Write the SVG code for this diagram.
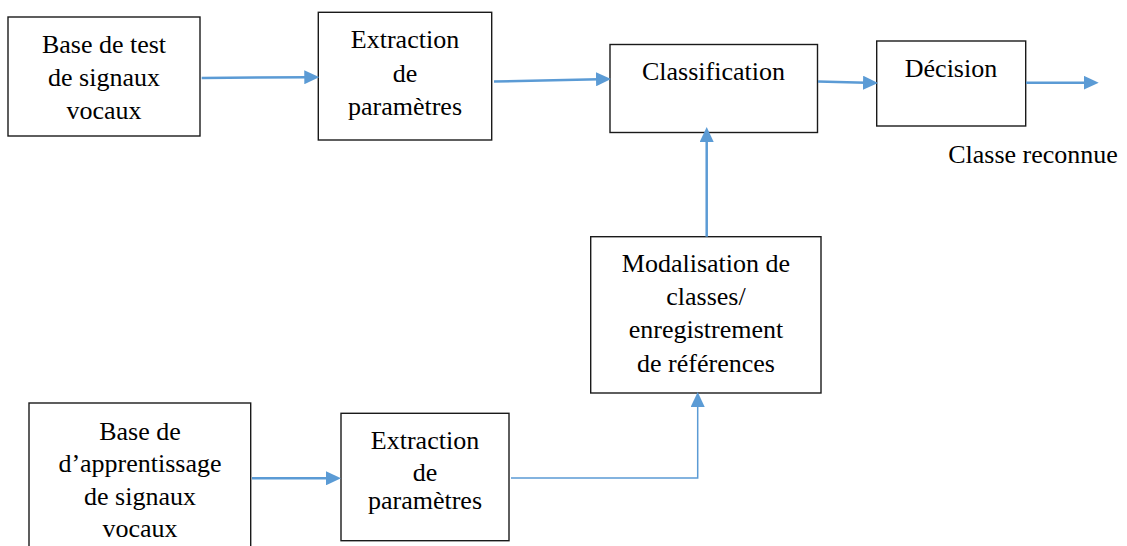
<svg xmlns="http://www.w3.org/2000/svg" width="1127" height="546" viewBox="0 0 1127 546">
<style>
.box{fill:#fff;stroke:#1a1a1a;stroke-width:1.4}
.t{font-family:'Liberation Serif','Times New Roman',serif;font-size:26px;fill:#000;text-anchor:middle}
.c{fill:none;stroke:#5B9BD5;stroke-width:2.5}
.c2{fill:none;stroke:#5B9BD5;stroke-width:1.5}
</style>
<defs>
<marker id="ah" markerUnits="userSpaceOnUse" markerWidth="15" markerHeight="14" viewBox="0 0 15 14" refX="3" refY="7" orient="auto">
<path d="M0,0 L15,7 L0,14 z" fill="#5B9BD5"/>
</marker>
</defs>
<rect width="1127" height="546" fill="#fff"/>
<g id="test-base">
<rect class="box" x="8" y="17" width="192" height="119"/>
<text class="t" x="104" y="53">Base de test</text>
<text class="t" x="104" y="86">de signaux</text>
<text class="t" x="104" y="119">vocaux</text>
</g>
<g id="extraction-top">
<rect class="box" x="318.3" y="12.3" width="173.4" height="127.7"/>
<text class="t" x="405" y="48">Extraction</text>
<text class="t" x="405" y="82">de</text>
<text class="t" x="405" y="115">paramètres</text>
</g>
<g id="classification">
<rect class="box" x="610" y="44.5" width="207.5" height="88"/>
<text class="t" x="713.5" y="80">Classification</text>
</g>
<g id="decision">
<rect class="box" x="876.7" y="41" width="149" height="85"/>
<text class="t" x="951" y="76.7">Décision</text>
</g>
<g id="output-label">
<text class="t" x="1033" y="162.7">Classe reconnue</text>
</g>
<g id="modelisation">
<rect class="box" x="590.7" y="236.7" width="230.3" height="156.3"/>
<text class="t" x="706" y="271.7">Modalisation de</text>
<text class="t" x="706" y="305">classes/</text>
<text class="t" x="706" y="338">enregistrement</text>
<text class="t" x="706" y="371.7">de références</text>
</g>
<g id="train-base">
<rect class="box" x="29" y="403" width="221.7" height="160"/>
<text class="t" x="140" y="440">Base de</text>
<text class="t" x="140" y="472">d’apprentissage</text>
<text class="t" x="140" y="505">de signaux</text>
<text class="t" x="140" y="537">vocaux</text>
</g>
<g id="extraction-bottom">
<rect class="box" x="341" y="413.3" width="168" height="127.4"/>
<text class="t" x="425" y="449.3">Extraction</text>
<text class="t" x="425" y="480.7">de</text>
<text class="t" x="425" y="509.3">paramètres</text>
</g>
<g id="connectors">
<path class="c" d="M201.7,78 L307.3,77.2" marker-end="url(#ah)"/>
<path class="c" d="M494,81.5 L599,79.2" marker-end="url(#ah)"/>
<path class="c" d="M818,81.5 L866,82.8" marker-end="url(#ah)"/>
<path class="c" d="M1026,82.7 L1086.7,82.7" marker-end="url(#ah)"/>
<path class="c" d="M706.7,236.7 L706.7,139" marker-end="url(#ah)"/>
<path class="c" d="M252,478.3 L329,478.3" marker-end="url(#ah)"/>
<path class="c2" d="M511,478 L697.7,478 L697.7,404" marker-end="url(#ah)"/>
</g>
</svg>
